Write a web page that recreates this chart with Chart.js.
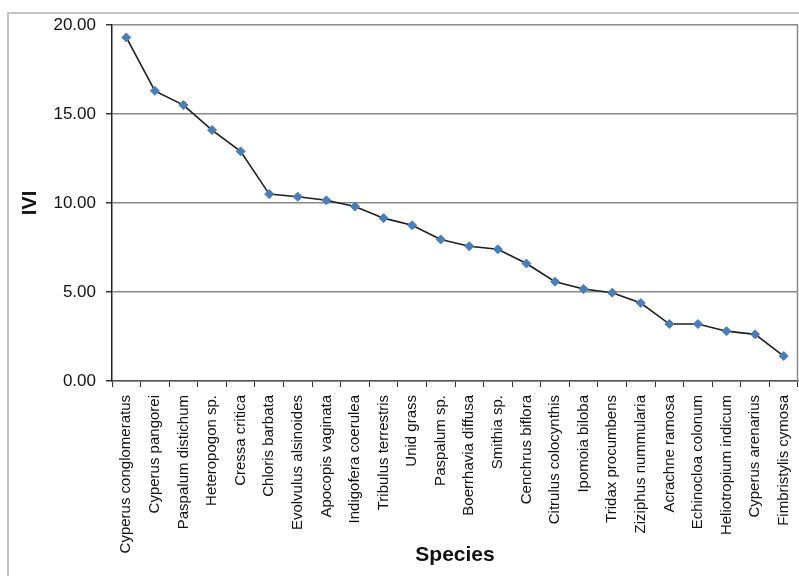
<!DOCTYPE html>
<html>
<head>
<meta charset="utf-8">
<script src="https://cdn.jsdelivr.net/npm/chart.js@4"></script>
<style>
  html, body { margin: 0; padding: 0; background: #fff; }
  #wrap { width: 799px; height: 576px; position: relative; }
</style>
</head>
<body>
<div id="wrap"><canvas id="iviChart" width="799" height="576"></canvas></div>
<script>
// species, ordered by IVI
const species = [
  'Cyperus conglomeratus', 'Cyperus pangorei', 'Paspalum distichum', 'Heteropogon sp.',
  'Cressa critica', 'Chloris barbata', 'Evolvulus alsinoides', 'Apocopis vaginata',
  'Indigofera coerulea', 'Tribulus terrestris', 'Unid grass', 'Paspalum sp.',
  'Boerrhavia diffusa', 'Smithia sp.', 'Cenchrus biflora', 'Citrulus colocynthis',
  'Ipomoia biloba', 'Tridax procumbens', 'Ziziphus nummularia', 'Acrachne ramosa',
  'Echinocloa colonum', 'Heliotropium indicum', 'Cyperus arenarius', 'Fimbristylis cymosa'
];
const iviValues = [
  19.3, 16.3, 15.5, 14.1, 12.9, 10.5, 10.35, 10.15, 9.8, 9.15, 8.75, 7.95,
  7.57, 7.4, 6.6, 5.58, 5.17, 4.96, 4.38, 3.2, 3.2, 2.8, 2.62, 1.4
];
const yTicks = [0, 5, 10, 15, 20];

const fontFam = "'Liberation Sans', Arial, sans-serif";

// gray frame round the whole picture + right edge of plot area
const framePlugin = {
  id: 'frame',
  beforeDraw(chart) {
    const c = chart.ctx;
    c.save();
    c.fillStyle = '#fff';
    c.fillRect(0, 0, chart.width, chart.height);
    c.strokeStyle = '#c4c4c4';
    c.lineWidth = 2;
    c.beginPath();
    c.moveTo(8, chart.height);
    c.lineTo(8, 13);
    c.lineTo(chart.width, 13);
    c.stroke();
    c.restore();
  },
  afterDatasetsDraw(chart) {
    const a = chart.chartArea;
    const c = chart.ctx;
    c.save();
    c.strokeStyle = '#8a8a8a';
    c.lineWidth = 1.5;
    c.beginPath();
    c.moveTo(a.right - 0.5, a.top);
    c.lineTo(a.right - 0.5, a.bottom);
    c.stroke();
    c.restore();
  }
};

new Chart(document.getElementById('iviChart').getContext('2d'), {
  type: 'line',
  data: {
    labels: species,
    datasets: [{
      label: 'IVI',
      data: iviValues,
      borderColor: '#1e1e1e',
      borderWidth: 1.6,
      tension: 0,
      pointStyle: 'rectRot',
      pointRadius: 4.5,
      pointBackgroundColor: '#4a7ebb',
      pointBorderColor: '#4a7ebb',
      pointBorderWidth: 1
    }]
  },
  options: {
    responsive: false,
    animation: false,
    layout: { autoPadding: false, padding: { left: 18, right: 1, top: 25, bottom: 8 } },
    plugins: { legend: { display: false }, tooltip: { enabled: false } },
    scales: {
      x: {
        offset: true,
        grid: { display: true, offset: true, drawOnChartArea: false, tickLength: 6, tickColor: '#333', lineWidth: 1 },
        border: { color: '#555', width: 1.5 },
        ticks: {
          minRotation: 90, maxRotation: 90, autoSkip: false,
          color: '#111', padding: 8,
          font: { family: fontFam, size: 15 }
        },
        title: {
          display: true, text: 'Species', color: '#111', padding: { top: 0, bottom: 0 },
          font: { family: fontFam, size: 21, weight: 'bold' }
        },
        afterFit(scale) { scale.height = 187; scale.paddingLeft = 0; scale.paddingRight = 0; }
      },
      y: {
        min: 0, max: 20,
        afterBuildTicks(scale) { scale.ticks = yTicks.map(v => ({ value: v })); },
        grid: { color: '#8a8a8a', lineWidth: 1.5, tickLength: 6, tickColor: '#333' },
        border: { color: '#222', width: 1.5 },
        ticks: {
          color: '#111', padding: 10,
          font: { family: fontFam, size: 17 },
          callback: v => Number(v).toFixed(2)
        },
        title: {
          display: true, text: 'IVI', color: '#111', padding: { top: 0, bottom: 8 },
          font: { family: fontFam, size: 20, weight: 'bold' }
        },
        afterFit(scale) { scale.width = 94; scale.paddingTop = 0; scale.paddingBottom = 0; }
      }
    }
  },
  plugins: [framePlugin]
});
</script>
</body>
</html>
